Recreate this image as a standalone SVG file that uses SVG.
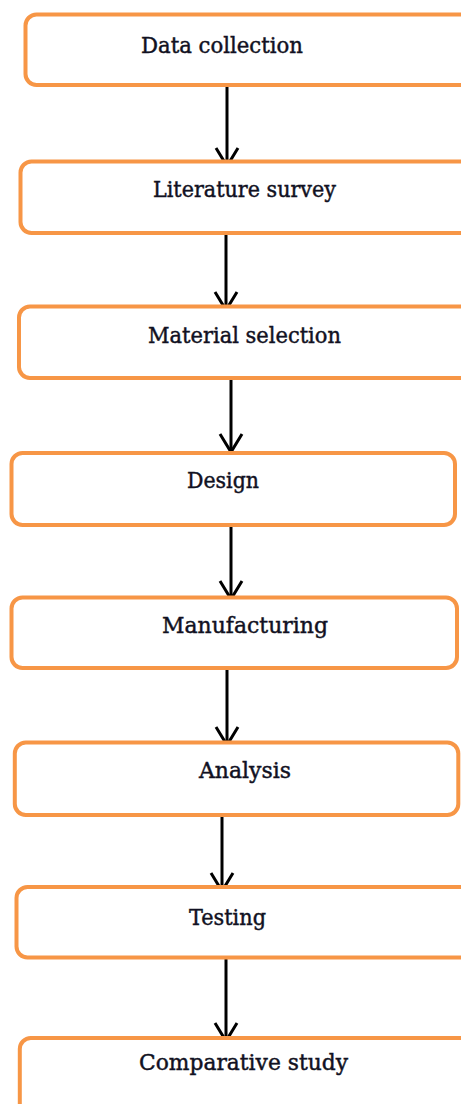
<svg xmlns="http://www.w3.org/2000/svg" width="461" height="1104" viewBox="0 0 461 1104">
<style>
.box{fill:#ffffff;stroke:#f79646;stroke-width:4}
.lbl{font-family:"DejaVu Serif","Liberation Serif",serif;font-size:22.5px;fill:#111122;stroke:#111122;stroke-width:0.45}
.arr{stroke:#000000;stroke-width:3;fill:none}
</style>
<defs>
<marker id="ah" markerUnits="userSpaceOnUse" viewBox="-20 -13 22 26" refX="0" refY="0" markerWidth="22" markerHeight="26" orient="auto" overflow="visible">
<path d="M-18,-11 L0,0 L-18,11" fill="none" stroke="#000000" stroke-width="3"/>
</marker>
</defs>
<rect width="461" height="1104" fill="#ffffff"/>
<g id="connectors">
<line class="arr" x1="227" y1="87" x2="227" y2="166" marker-end="url(#ah)"/>
<line class="arr" x1="226" y1="234" x2="226" y2="310" marker-end="url(#ah)"/>
<line class="arr" x1="231" y1="379" x2="231" y2="452" marker-end="url(#ah)"/>
<line class="arr" x1="231" y1="526" x2="231" y2="599" marker-end="url(#ah)"/>
<line class="arr" x1="227" y1="669" x2="227" y2="745" marker-end="url(#ah)"/>
<line class="arr" x1="222" y1="816" x2="222" y2="891" marker-end="url(#ah)"/>
<line class="arr" x1="226" y1="959" x2="226" y2="1041" marker-end="url(#ah)"/>
</g>
<g id="n1">
<rect class="box" x="25.5" y="14.5" width="450" height="70.5" rx="11"/>
<text class="lbl" x="141" y="53" textLength="162" lengthAdjust="spacingAndGlyphs">Data collection</text>
</g>
<g id="n2">
<rect class="box" x="20.5" y="161.5" width="455" height="71.5" rx="11"/>
<text class="lbl" x="153" y="197" textLength="183" lengthAdjust="spacingAndGlyphs">Literature survey</text>
</g>
<g id="n3">
<rect class="box" x="19" y="306.5" width="456" height="71.5" rx="11"/>
<text class="lbl" x="148" y="343" textLength="193" lengthAdjust="spacingAndGlyphs">Material selection</text>
</g>
<g id="n4">
<rect class="box" x="11.5" y="453" width="443.5" height="72" rx="11"/>
<text class="lbl" x="187" y="488" textLength="72" lengthAdjust="spacingAndGlyphs">Design</text>
</g>
<g id="n5">
<rect class="box" x="11.5" y="597.5" width="445.5" height="70.5" rx="11"/>
<text class="lbl" x="162" y="633" textLength="166" lengthAdjust="spacingAndGlyphs">Manufacturing</text>
</g>
<g id="n6">
<rect class="box" x="14.8" y="742.5" width="443.5" height="72.5" rx="11"/>
<text class="lbl" x="199" y="778" textLength="92" lengthAdjust="spacingAndGlyphs">Analysis</text>
</g>
<g id="n7">
<rect class="box" x="16.5" y="887" width="460" height="70.5" rx="11"/>
<text class="lbl" x="189" y="925" textLength="77" lengthAdjust="spacingAndGlyphs">Testing</text>
</g>
<g id="n8">
<rect class="box" x="19.8" y="1038" width="460" height="90" rx="11"/>
<text class="lbl" x="139" y="1070" textLength="209" lengthAdjust="spacingAndGlyphs">Comparative study</text>
</g>
</svg>
